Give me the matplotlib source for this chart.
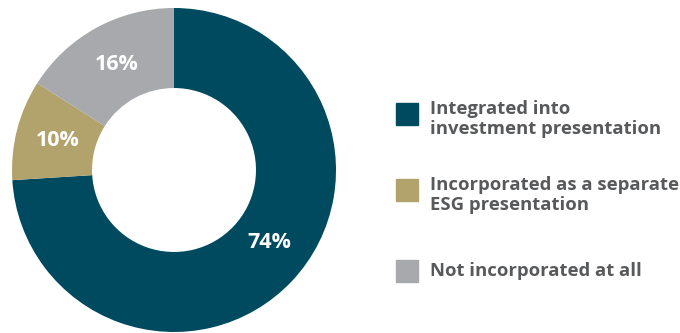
import matplotlib.pyplot as plt
from matplotlib.patches import Rectangle

labels = ["Integrated into\ninvestment presentation",
          "Incorporated as a separate\nESG presentation",
          "Not incorporated at all"]
shares = [74, 10, 16]
colors = ["#004a5f", "#b2a26b", "#a8a9ad"]

plt.rcParams["font.family"] = ["Open Sans", "DejaVu Sans"]

fig = plt.figure(figsize=(6.8, 3.33), dpi=100)

# donut
ax = fig.add_axes([0.01765, 0.003, 0.4765, 0.973])
wedges, _, pct = ax.pie(shares, colors=colors, startangle=90, counterclock=False,
                        autopct="%d%%", pctdistance=0.74,
                        wedgeprops=dict(width=0.494, edgecolor="none"),
                        textprops=dict(color="white", fontsize=15.5, fontweight="bold"))
# nudge the big slice's label a little up and right
x0, y0 = pct[0].get_position()
pct[0].set_position((x0 + 0.05, y0 + 0.06))
ax.set_aspect("equal")
ax.set_xlim(-1, 1)
ax.set_ylim(-1, 1)

# legend drawn by hand
lax = fig.add_axes([0, 0, 1, 1])
lax.set_xlim(0, 680)
lax.set_ylim(333, 0)
lax.axis("off")
rows_y = [114, 190, 271]
for y, lab, col in zip(rows_y, labels, colors):
    lax.add_patch(Rectangle((396, y - 11), 22, 22, color=col))
    n = lab.count("\n")
    lax.text(430, y - 14 if n else y, lab, va="top" if n else "center", ha="left",
             fontsize=13.3, fontweight="bold", color="#58595b", linespacing=1.15)

fig.savefig("out.png", dpi=100)
